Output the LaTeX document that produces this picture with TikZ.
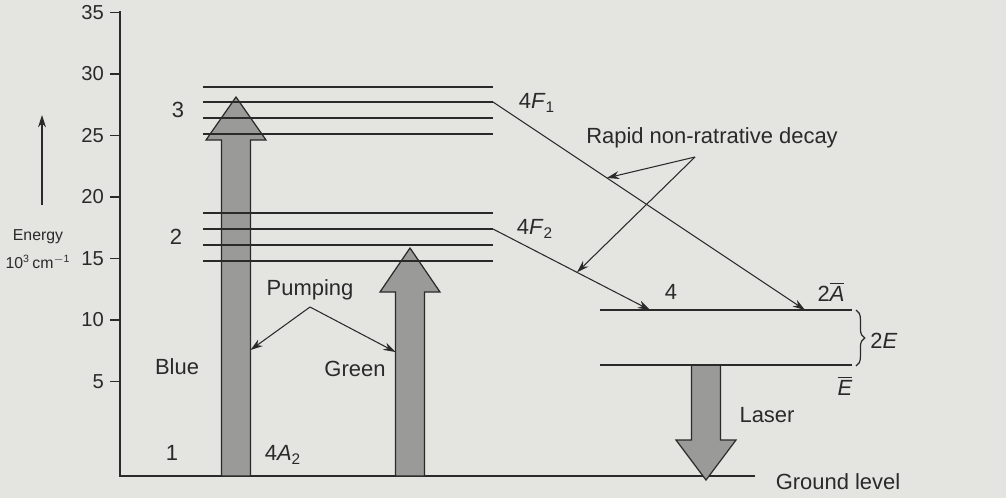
\documentclass[tikz,border=0pt]{standalone}
\usepackage{fontspec}
\setmainfont{Liberation Sans}
\usetikzlibrary{arrows.meta,calc,decorations.pathreplacing}
\definecolor{paper}{HTML}{E4E4E1}
\definecolor{ink}{HTML}{2A2A2A}
\definecolor{beam}{HTML}{9A9A98}
% wide grey arrow: centre x, foot, base of head, tip
\newcommand{\beamarrow}[4]{%
  \filldraw[beamfill] (#1-14.5,#2) -- (#1-14.5,#3) -- (#1-30,#3) -- (#1,#4)
    -- (#1+30,#3) -- (#1+14.5,#3) -- (#1+14.5,#2) -- cycle;}
\tikzset{
  lvl/.style={ink,line width=0.8pt},
  axis/.style={ink,line width=1pt},
  lbl/.style={font=\fontsize{12.5}{15}\selectfont,text=ink,inner sep=1pt},
  ticklbl/.style={font=\fontsize{11.5}{13}\selectfont,text=ink,inner sep=1pt,anchor=east},
  small/.style={font=\fontsize{9}{11}\selectfont,text=ink,inner sep=1pt},
  arr/.style={-{Stealth[length=7pt,width=4.5pt]},ink,line width=0.6pt},
  beamfill/.style={fill=beam,draw=ink,line width=0.7pt},
}
\begin{document}
\begin{tikzpicture}[x=0.02cm,y=-0.02cm]
\fill[paper] (0,0) rectangle (1006,498);
\useasboundingbox (0,0) rectangle (1006,498);

% energy axis
\coordinate (axtop) at (120,11);
\coordinate (ax0) at (120,476);
\coordinate (gnd) at (755,476);
\draw[axis] (axtop) -- (ax0) -- (gnd);
\foreach \v in {5,10,...,35}{
  \draw[lvl] (110,443-12.3*\v) -- (120,443-12.3*\v);
  \node[ticklbl] (t\v) at (106,443-12.3*\v) {\v};
}
\node[small] (energy) at (38,237) {Energy};
\node[small] (unit) at (38,262) {10\textsuperscript{3}\,cm\textsuperscript{$-$1}};
\coordinate (e0) at (42,205);
\coordinate (e1) at (42,115);
\draw[arr] (e0) -- (e1);

% pump and laser beams
\beamarrow{236}{476}{140}{97}
\beamarrow{410}{476}{292}{248}
\beamarrow{706}{365}{440}{480}

% levels
\foreach \y [count=\i] in {87,102,118,134}
  \draw[lvl] (203,\y) coordinate (ua\i) -- (493,\y) coordinate (ub\i);
\foreach \y [count=\i] in {213,229,245,261}
  \draw[lvl] (203,\y) coordinate (ma\i) -- (493,\y) coordinate (mb\i);
\coordinate (la) at (600,310); \coordinate (lb) at (852,310);
\coordinate (ea) at (600,365); \coordinate (eb) at (852,365);
\draw[lvl] (la) -- (lb);
\draw[lvl] (ea) -- (eb);
\draw[ink,line width=0.7pt,decorate,decoration={brace,amplitude=5pt}] (856,310) -- (856,366);

% decay to level 4
\coordinate (f1end) at (805,310);
\coordinate (f2end) at (650,310);
\draw[arr] (ub2) -- (f1end);
\draw[arr] (mb2) -- (f2end);

% labels
\node[lbl] (n3) at (178,110) {3};
\node[lbl] (n2) at (176,237) {2};
\node[lbl] (n1) at (172,453) {1};
\node[lbl] (a2) at (283,455) {4\textit{A}\textsubscript{2}};
\node[lbl] (f1) at (537,103) {4\textit{F}\textsubscript{1}};
\node[lbl] (f2) at (535,229) {4\textit{F}\textsubscript{2}};
\node[lbl] (four) at (671,292) {4};
\node[lbl] (abar) at (831,292) {2$\overline{\mbox{\textit{A}}}$};
\node[lbl] (ebar) at (845,386) {$\overline{\mbox{\textit{E}}}$};
\node[lbl] (twoe) at (884,341) {2\textit{E}};
\node[lbl] (blue) at (177,367) {Blue};
\node[lbl] (green) at (355,369) {Green};
\node[lbl] (pump) at (310,290) {Pumping};
\node[lbl] (laser) at (767,415) {Laser};
\node[lbl] (ground) at (838,482) {Ground level};
\node[lbl] (rapid) at (712,138) {Rapid non-ratrative decay};

% pointers
\coordinate (p0) at (310,307);
\coordinate (pb) at (250.5,350);
\coordinate (pg) at (395.5,352);
\draw[arr] (p0) -- (pb);
\draw[arr] (p0) -- (pg);
\coordinate (r0) at (695,157);
\coordinate (r1) at ($(ub2)!0.365!(f1end)$);
\coordinate (r2) at ($(mb2)!0.535!(f2end)$);
\draw[arr] (r0) -- (r1);
\draw[arr] (r0) -- (r2);
\end{tikzpicture}
\end{document}
